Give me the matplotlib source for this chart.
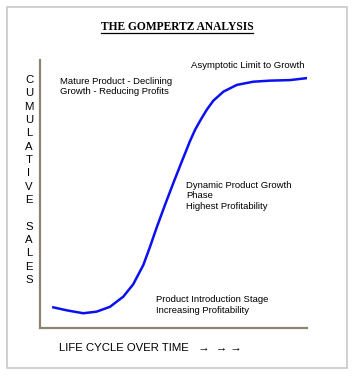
import numpy as np
import matplotlib.pyplot as plt
from matplotlib.patches import Rectangle
from matplotlib.lines import Line2D

# curve (time %, cumulative sales %)
time = [5.0, 10.0, 16.2, 21.2, 26.2, 31.2, 34.9, 38.7, 41.2, 43.7, 46.8, 49.9,
        53.1, 56.2, 58.1, 60.3, 62.5, 64.9, 68.7, 73.7, 79.9, 86.1, 93.6, 99.6]
sales = [7.7, 6.6, 5.5, 6.1, 7.9, 11.7, 16.3, 23.5, 30.3, 37.5, 45.9, 54.0,
         62.1, 69.8, 74.0, 77.9, 81.5, 84.8, 88.2, 90.7, 91.9, 92.3, 92.5, 93.2]
ylabel = "CUMULATIVE SALES"

W, H = 359, 376
fig = plt.figure(figsize=(W / 100, H / 100), dpi=100)

def fx(px):
    return px / W

def fy(py):
    return 1 - py / H

# outer frame
fig.patches.append(Rectangle((fx(7), fy(368)), fx(340), (368 - 7) / H,
                             transform=fig.transFigure, fill=False,
                             edgecolor="#c8c8c8", lw=1.2))

ax = fig.add_axes([fx(40), fy(328), 267 / W, 268 / H])
ax.plot(time, sales, color="#0a10f0", lw=1.8, solid_joinstyle="round")
ax.set_xlim(0, 100)
ax.set_ylim(0, 100)
ax.set_xticks([])
ax.set_yticks([])
for s in ["top", "right"]:
    ax.spines[s].set_visible(False)
for s in ["left", "bottom"]:
    ax.spines[s].set_color("#8c8473")
    ax.spines[s].set_linewidth(1.6)

# title (underlined)
t = fig.text(fx(177), fy(27), "THE GOMPERTZ ANALYSIS", ha="center", va="center",
             family="Liberation Serif", weight="bold", fontsize=8.3)
fig.canvas.draw()
bb = t.get_window_extent()
fig.add_artist(Line2D([bb.x0 / W, bb.x1 / W], [fy(33), fy(33)],
                      transform=fig.transFigure, color="black", lw=0.9))

# vertical y label, one letter per line
slots = list("CUMULATIVE") + [""] + list("SALES")
for i, ch in enumerate(slots):
    fig.text(fx(29), fy(80 + i * 13.33), ch, ha="center", va="center",
             family="Liberation Sans", fontsize=8.2)

kw = dict(family="Liberation Sans", fontsize=6.8, va="center", ha="left")
def lines(x, y0, txt, step=10.8):
    for i, s in enumerate(txt):
        fig.text(fx(x), fy(y0 + i * step), s, **kw)

lines(60, 81, ["Mature Product - Declining", "Growth - Reducing Profits"])
lines(191, 65, ["Asymptotic Limit to Growth"])
lines(186, 185, ["Dynamic Product Growth", "Phase", "Highest Profitability"])
lines(156, 300, ["Product Introduction Stage", "Increasing Profitability"])

fig.text(fx(59), fy(348), "LIFE CYCLE OVER TIME   \u2192  \u2192 \u2192", ha="left",
         va="center", family=["Liberation Sans", "DejaVu Sans"], fontsize=8.2)

fig.savefig("out.png", dpi=100, facecolor="white")
